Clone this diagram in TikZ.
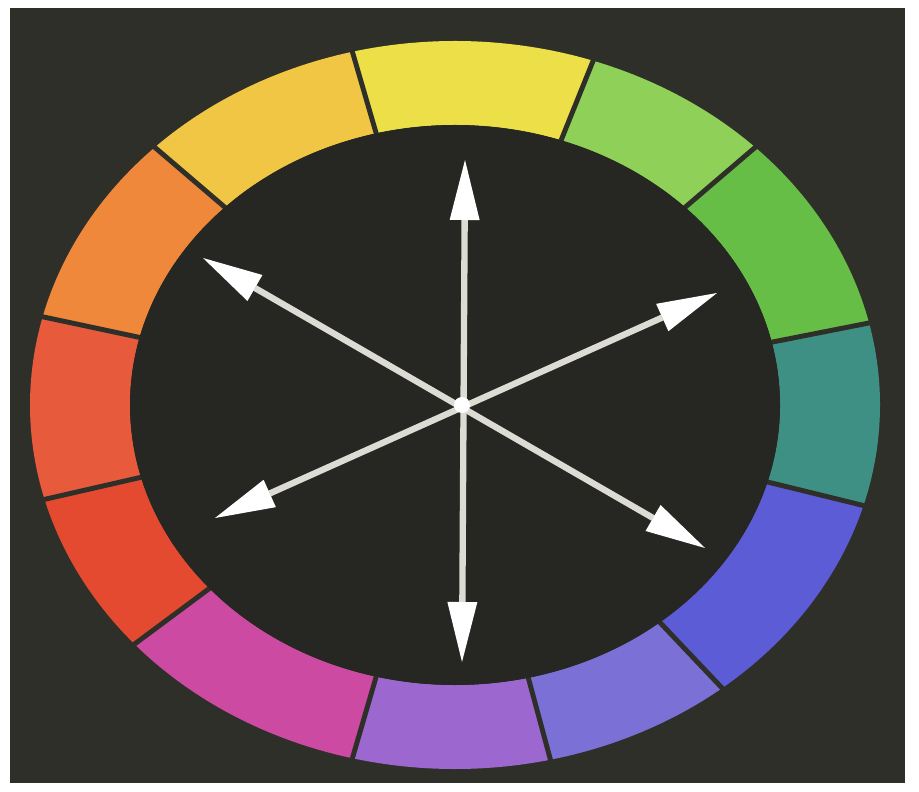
\documentclass[tikz,border=0pt]{standalone}
\usepackage{tikz}
\usetikzlibrary{arrows.meta,calc}
\definecolor{bgdark}{HTML}{2E2F29}
\definecolor{innerdark}{HTML}{262722}
\definecolor{cwYellow}{HTML}{ECDF48}
\definecolor{cwYellowOrange}{HTML}{F2C645}
\definecolor{cwOrange}{HTML}{F0883C}
\definecolor{cwRedOrange}{HTML}{E85A3C}
\definecolor{cwRed}{HTML}{E44A30}
\definecolor{cwMagenta}{HTML}{CC4AA2}
\definecolor{cwPurple}{HTML}{9C68D0}
\definecolor{cwVioletBlue}{HTML}{7A70D6}
\definecolor{cwBlue}{HTML}{5C5CD6}
\definecolor{cwTeal}{HTML}{3F9084}
\definecolor{cwGreen}{HTML}{66BE46}
\definecolor{cwLightGreen}{HTML}{8ED058}
\definecolor{arrowwhite}{HTML}{DCDCD4}
\begin{document}
\begin{tikzpicture}[
  arrowline/.style={draw=arrowwhite, line width=1.8pt,
    {Triangle[length=6mm,width=3mm,line width=0pt,color=white]}-{Triangle[length=6mm,width=3mm,line width=0pt,color=white]}},
  gapline/.style={draw=bgdark, line width=1.4pt}]
\useasboundingbox (0,0) rectangle (9.19,7.91);
\fill[white] (0,0) rectangle (9.19,7.91);
\fill[bgdark] (0.10,0.08) rectangle (9.05,7.83);
\coordinate (c) at (4.55,3.86);
\foreach \a/\b/\col in {71/104/cwYellow, 104/135/cwYellowOrange, 135/166/cwOrange,
  166/195/cwRedOrange, 195/221/cwRed, 221/256/cwMagenta, 256/283/cwPurple,
  283/309/cwVioletBlue, 309/344/cwBlue, 344/373/cwTeal, 13/45/cwGreen, 45/71/cwLightGreen}
  \fill[\col] ($(c)+(\a:4.25 and 3.64)$) arc[start angle=\a, end angle=\b, x radius=4.25, y radius=3.64]
    -- ($(c)+(\b:3.25 and 2.80)$) arc[start angle=\b, end angle=\a, x radius=3.25, y radius=2.80] -- cycle;
\foreach \a in {71,104,135,166,195,221,256,283,309,344,373,45}
  \draw[gapline] ($(c)+(\a:3.2 and 2.75)$) -- ($(c)+(\a:4.3 and 3.69)$);
\fill[innerdark] (c) ellipse [x radius=3.25, y radius=2.80];
\coordinate (mid) at (4.62,3.86);
\coordinate (top) at (4.65,6.31);
\coordinate (bot) at (4.62,1.29);
\coordinate (ul) at (2.03,5.33);
\coordinate (lr) at (7.05,2.43);
\coordinate (ll) at (2.15,2.73);
\coordinate (ur) at (7.17,4.98);
\draw[arrowline] (top) -- (bot);
\draw[arrowline] (ul) -- (lr);
\draw[arrowline] (ll) -- (ur);
\fill[white] (mid) circle (0.08);
\end{tikzpicture}
\end{document}
